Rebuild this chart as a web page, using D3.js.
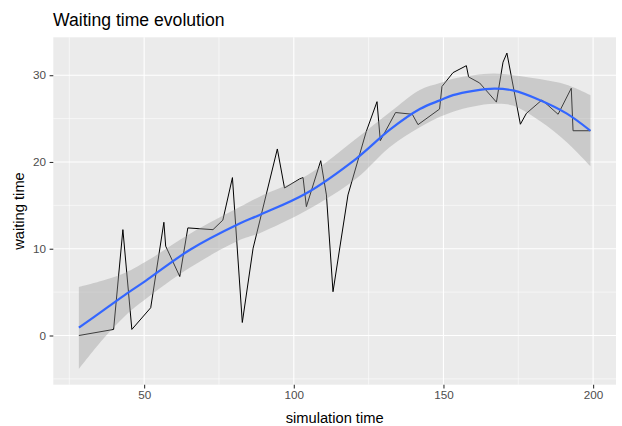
<!DOCTYPE html>
<html>
<head>
<meta charset="utf-8">
<script src="https://cdn.jsdelivr.net/npm/d3@7"></script>
<style>
  body { margin: 0; background: #fff; }
  text { font-family: "Liberation Sans", Arial, sans-serif; }
</style>
</head>
<body>
<div id="chart"></div>
<script>
// observed series
var simTime = [28.2, 39.8, 42.9, 45.9, 52.2, 56.6, 57.2, 61.9, 64.6, 73.0, 76.3, 79.5, 82.8, 86.4,
	94.5, 96.9, 101.95, 103.1, 104.2, 109.0, 110.9, 113.1, 118.1, 124.2, 127.8, 128.9, 134.0,
	139.6, 141.5, 148.7, 149.5, 153.2, 157.65, 158.4, 162.1, 167.7, 169.9, 171.2, 175.7, 177.7,
	182.9, 188.3, 192.7, 193.3, 199.1]
var waitTime = [0.0, 0.7, 12.2, 0.7, 3.2, 13.05, 10.3, 6.8, 12.4, 12.2, 13.3, 18.2, 1.5, 10.05,
	21.5, 17.0, 18.05, 18.2, 14.85, 20.15, 16.2, 5.05, 16.2, 23.5, 26.95, 22.45, 25.7,
	25.5, 24.3, 26.1, 28.7, 30.3, 31.1, 29.8, 29.1, 26.9, 31.5, 32.55, 24.35, 25.6,
	27.15, 25.5, 28.5, 23.6, 23.6]

// smoother
var smoothTime = [28.2, 36.8, 44.05, 50.5, 65.2, 81.9, 88.6, 104.2, 120.9, 132.0, 142.1, 148.8,
	153.2, 160.0, 167.0, 173.2, 182.1, 191.1, 199.1]
var smoothFit = [0.9, 3.0, 4.8, 6.3, 9.85, 12.9, 13.9, 16.4, 20.4, 23.7, 26.1, 27.1,
	27.7, 28.2, 28.45, 28.25, 27.15, 25.6, 23.6]
var smoothLow = [-3.85, -0.2, 2.4, 4.2, 7.8, 11.0, 11.8, 14.4, 18.1, 21.7, 24.0, 25.2,
	25.8, 26.4, 26.7, 26.5, 24.75, 22.3, 19.5]
var smoothHigh = [5.6, 6.4, 7.3, 8.5, 11.7, 14.8, 16.0, 18.4, 22.7, 25.7, 28.3, 29.1,
	29.6, 30.0, 30.2, 30.0, 29.55, 28.9, 27.7]

var xTicks = [50, 100, 150, 200]
var xMinor = [25, 75, 125, 175]
var yTicks = [0, 10, 20, 30]
var yMinor = [-5, 5, 15, 25]

var width = 622
var height = 426
var panel = { left: 53.3, right: 616, top: 37.3, bottom: 384.7 }

var svg = d3.select('#chart').append('svg')
	.attr('width', width)
	.attr('height', height)

svg.append('rect')
	.attr('width', width)
	.attr('height', height)
	.attr('fill', '#fff')

// ggplot-like 5% expansion
function expand(lo, hi) {
	var pad = (hi - lo) * 0.05
	return [lo - pad, hi + pad]
}

var xExt = d3.extent(simTime.concat(smoothTime))
var yExt = d3.extent(waitTime.concat(smoothLow, smoothHigh))

var xScale = d3.scaleLinear()
	.domain(expand(xExt[0], xExt[1]))
	.range([panel.left, panel.right])

var yScale = d3.scaleLinear()
	.domain(expand(yExt[0], yExt[1]))
	.range([panel.bottom, panel.top])

svg.append('rect')
	.attr('x', panel.left)
	.attr('y', panel.top)
	.attr('width', panel.right - panel.left)
	.attr('height', panel.bottom - panel.top)
	.attr('fill', '#ebebeb')

var grid = svg.append('g')

grid.selectAll('.xminor').data(xMinor).enter().append('line')
	.attr('x1', function(d) { return xScale(d) })
	.attr('x2', function(d) { return xScale(d) })
	.attr('y1', panel.top).attr('y2', panel.bottom)
	.attr('stroke', '#fff').attr('stroke-width', 0.55)

grid.selectAll('.yminor').data(yMinor).enter().append('line')
	.attr('y1', function(d) { return yScale(d) })
	.attr('y2', function(d) { return yScale(d) })
	.attr('x1', panel.left).attr('x2', panel.right)
	.attr('stroke', '#fff').attr('stroke-width', 0.55)

grid.selectAll('.xmajor').data(xTicks).enter().append('line')
	.attr('x1', function(d) { return xScale(d) })
	.attr('x2', function(d) { return xScale(d) })
	.attr('y1', panel.top).attr('y2', panel.bottom)
	.attr('stroke', '#fff').attr('stroke-width', 1.1)

grid.selectAll('.ymajor').data(yTicks).enter().append('line')
	.attr('y1', function(d) { return yScale(d) })
	.attr('y2', function(d) { return yScale(d) })
	.attr('x1', panel.left).attr('x2', panel.right)
	.attr('stroke', '#fff').attr('stroke-width', 1.1)

// raw line
var rows = simTime.map(function(t, i) { return { t: t, w: waitTime[i] } })

var line = d3.line()
	.x(function(d) { return xScale(d.t) })
	.y(function(d) { return yScale(d.w) })

svg.append('path')
	.datum(rows)
	.attr('d', line)
	.attr('fill', 'none')
	.attr('stroke', '#000')
	.attr('stroke-width', 1)

// smoother ribbon + fit
var smooth = smoothTime.map(function(t, i) {
	return { t: t, fit: smoothFit[i], lo: smoothLow[i], hi: smoothHigh[i] }
})

var band = d3.area()
	.curve(d3.curveCatmullRom.alpha(0.5))
	.x(function(d) { return xScale(d.t) })
	.y0(function(d) { return yScale(d.lo) })
	.y1(function(d) { return yScale(d.hi) })

svg.append('path')
	.datum(smooth)
	.attr('d', band)
	.attr('fill', '#999999')
	.attr('fill-opacity', 0.4)

var fitLine = d3.line()
	.curve(d3.curveCatmullRom.alpha(0.5))
	.x(function(d) { return xScale(d.t) })
	.y(function(d) { return yScale(d.fit) })

svg.append('path')
	.datum(smooth)
	.attr('d', fitLine)
	.attr('fill', 'none')
	.attr('stroke', '#3366ff')
	.attr('stroke-width', 2.2)

// axes
var xAxis = svg.append('g')
	.attr('transform', 'translate(0,' + panel.bottom + ')')
	.call(d3.axisBottom(xScale).tickValues(xTicks).tickSize(3.7).tickPadding(2.5))
var yAxis = svg.append('g')
	.attr('transform', 'translate(' + panel.left + ',0)')
	.call(d3.axisLeft(yScale).tickValues(yTicks).tickSize(3.7).tickPadding(3.5))

svg.selectAll('.domain').remove()
svg.selectAll('.tick line').attr('stroke', '#333').attr('stroke-width', 1.1)
svg.selectAll('.tick text')
	.attr('fill', '#4d4d4d')
	.style('font-size', '11.7px')
	.style('font-family', '"Liberation Sans", Arial, sans-serif')

svg.append('text')
	.attr('x', (panel.left + panel.right) / 2)
	.attr('y', 422.5)
	.attr('text-anchor', 'middle')
	.style('font-size', '14.7px')
	.text('simulation time')

svg.append('text')
	.attr('transform', 'translate(24,' + ((panel.top + panel.bottom) / 2) + ') rotate(-90)')
	.attr('text-anchor', 'middle')
	.style('font-size', '14.7px')
	.text('waiting time')

svg.append('text')
	.attr('x', 53)
	.attr('y', 26)
	.style('font-size', '17.6px')
	.text('Waiting time evolution')
</script>
</body>
</html>
